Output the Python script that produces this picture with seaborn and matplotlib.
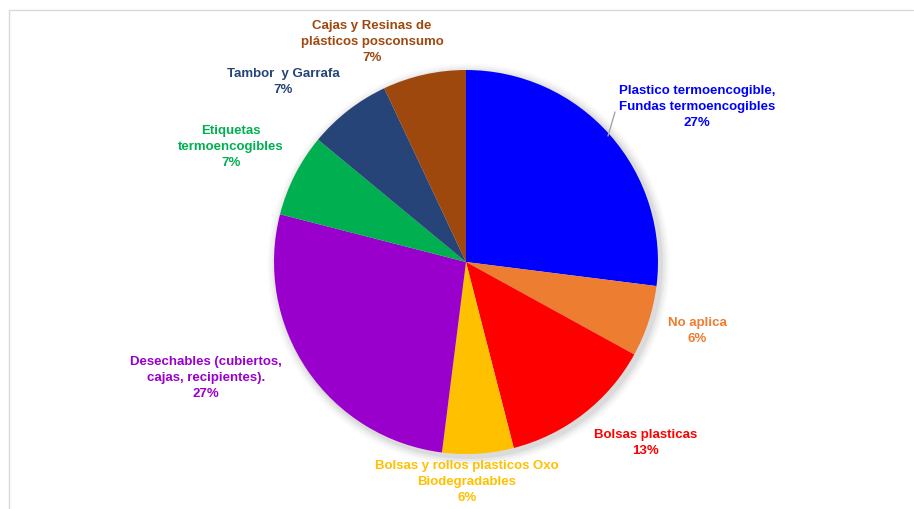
import matplotlib
matplotlib.use("Agg")
import matplotlib.pyplot as plt
from matplotlib.lines import Line2D
from matplotlib.patches import Circle
import seaborn as sns

# Packaging material categories and their share of responses (%)
categories = [
    "Plastico termoencogible,\nFundas termoencogibles",
    "No aplica",
    "Bolsas plasticas",
    "Bolsas y rollos plasticos Oxo\nBiodegradables",
    "Desechables (cubiertos,\ncajas, recipientes).",
    "Etiquetas\ntermoencogibles",
    "Tambor  y Garrafa",
    "Cajas y Resinas de\nplásticos posconsumo",
]
shares = [27, 6, 13, 6, 27, 7, 7, 7]

colors = ["#0000FF", "#ED7D31", "#FF0000", "#FFC000",
          "#9900CC", "#00B050", "#264478", "#9E480E"]

# Label anchor positions (in units of the pie radius)
label_pos = [(1.203, 0.812), (1.203, -0.354), (0.937, -0.937), (0.005, -1.141),
             (-1.354, -0.599), (-1.224, 0.604), (-0.953, 0.943), (-0.490, 1.151)]

sns.set_style("white")
plt.rcParams["font.family"] = ["Liberation Sans", "DejaVu Sans"]

W, H, DPI = 914, 510, 100
fig = plt.figure(figsize=(W / DPI, H / DPI), dpi=DPI)
fig.patch.set_facecolor("white")

# pie centre and radius in pixels
cx, cy, R = 466, 263, 192
ax = fig.add_axes([0, 0, 1, 1])
ax.axis("off")

# soft drop shadow under the pie
for i, a in enumerate([0.05, 0.04, 0.03, 0.02]):
    ax.add_patch(Circle((0.014, -0.014), 1.0 + 0.012 * (i + 1),
                        facecolor="black", edgecolor="none", alpha=a, zorder=0))

wedges, _ = ax.pie(shares, colors=colors, startangle=90, counterclock=False,
                   radius=1.0, wedgeprops=dict(linewidth=0, zorder=1))

ax.set_xlim(-cx / R, (W - cx) / R)
ax.set_ylim(-(H - cy) / R, cy / R)
ax.set_aspect("equal")

for lab, val, col, (lx, ly) in zip(categories, shares, colors, label_pos):
    ax.text(lx, ly, f"{lab}\n{val}%", color=col, fontsize=9.5, fontweight="bold",
            ha="center", va="center", linespacing=1.45, zorder=3)

# leader line for the first label
ax.plot([(608 - cx) / R, (615 - cx) / R], [(cy - 137) / R, (cy - 113) / R],
        color="#A6A6A6", lw=1.0, zorder=2)

# chart-area frame (top and left edges)
fig.add_artist(Line2D([9 / W, 913 / W], [1 - 11 / H, 1 - 11 / H],
                      transform=fig.transFigure, color="#D9D9D9", lw=1))
fig.add_artist(Line2D([9 / W, 9 / W], [0, 1 - 11 / H],
                      transform=fig.transFigure, color="#D9D9D9", lw=1))

fig.savefig("out.png", dpi=DPI, facecolor="white")
